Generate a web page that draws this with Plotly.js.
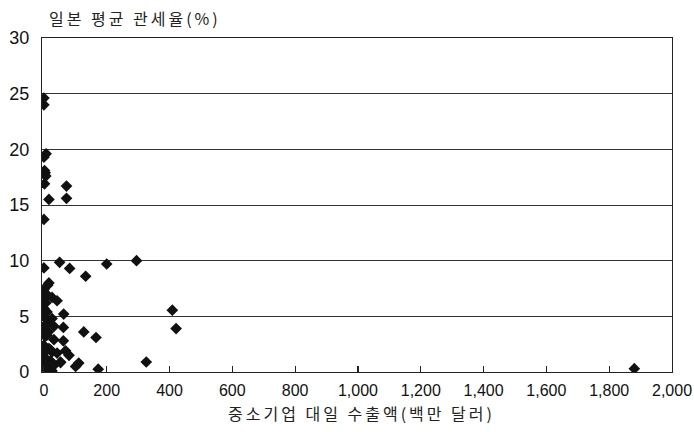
<!DOCTYPE html>
<html>
<head>
<meta charset="utf-8">
<script src="https://cdn.plot.ly/plotly-3.0.1.min.js"></script>
<style>
html,body{margin:0;padding:0;background:#fff;}
#chart{width:694px;height:432px;}
#chart .annotation-text{letter-spacing:3px;}
</style>
</head>
<body>
<div id="chart"></div>
<script>
// 중소기업 대일 수출액(백만 달러)
const exportsX = [
  0, 0, 0, 7, 2, 4, 6, 2, 16, 72, 72, 0,
  0, 50, 82, 133, 200, 295,
  409, 421, 326, 166, 127, 173, 101, 111, 1880,
  16, 12, 0, 8, 26, 42, 0, 6, 0, 4, 10, 63, 0, 26, 10, 0, 32, 62, 0, 14, 4, 10, 32, 62,
  0, 0, 16, 21, 26, 69, 80, 42, 0, 0, 10, 21, 53, 0, 26, 32, 4, 26, 12, 0, 53
];
// 일본 평균 관세율(%)
const tariffY = [
  24.6, 24.0, 19.3, 19.6, 18.1, 17.9, 17.6, 16.9, 15.5, 16.7, 15.6, 13.7,
  9.35, 9.85, 9.3, 8.6, 9.7, 10.0,
  5.55, 3.9, 0.9, 3.1, 3.6, 0.25, 0.5, 0.8, 0.3,
  8.0, 7.8, 7.4, 7.0, 6.7, 6.4, 6.5, 6.2, 5.7, 5.5, 5.4, 5.2, 5.0, 4.8, 4.4, 4.1, 4.1, 4.0, 3.8, 3.6, 3.2, 3.3, 2.9, 2.8,
  2.4, 2.2, 2.1, 2.0, 1.8, 1.9, 1.5, 1.7, 1.7, 1.2, 1.1, 1.0, 0.9, 0.9, 0.7, 0.6, 0.3, 0.1, 0.2, 0.5, 0.85
];
const xTicks = [0, 200, 400, 600, 800, 1000, 1200, 1400, 1600, 1800, 2000];
const yTicks = [0, 5, 10, 15, 20, 25, 30];
const xTitle = '중소기업\u00a0대일\u00a0수출액(백만\u00a0달러)';
const yTitle = '일본\u00a0평균\u00a0관세율(%)';

const font = '"Liberation Sans", Arial, "Noto Sans CJK KR", sans-serif';
const kfont = '"Noto Sans CJK KR", "Liberation Sans", sans-serif';

const trace = {
  type: 'scatter', mode: 'markers',
  x: exportsX, y: tariffY,
  marker: {symbol: 'diamond', size: 9, color: '#111'},
  hoverinfo: 'x+y'
};

const layout = {
  width: 694, height: 432,
  margin: {l: 42, r: 22, t: 38, b: 60},
  paper_bgcolor: '#fff', plot_bgcolor: '#fff',
  showlegend: false,
  font: {family: font, color: '#111'},
  xaxis: {
    range: [-6, 2000], tickvals: xTicks, tickformat: ',d',
    showgrid: false, zeroline: false,
    showline: true, linecolor: '#222', linewidth: 1.2, mirror: true,
    ticks: 'inside', ticklen: 6, tickcolor: '#222', tickwidth: 1.2,
    ticklabelstandoff: 4,
    tickfont: {size: 16, family: font, color: '#111'}
  },
  yaxis: {
    range: [0, 30], tickvals: yTicks,
    showgrid: true, gridcolor: '#333', gridwidth: 1,
    zeroline: false,
    showline: true, linecolor: '#222', linewidth: 1.2, mirror: true,
    ticks: '', ticklabelstandoff: 8,
    tickfont: {size: 18, family: font, color: '#111'}
  },
  annotations: [
    {text: yTitle, xref: 'paper', yref: 'paper', x: (135-42)/630, y: 1.06,
     xanchor: 'center', yanchor: 'middle', showarrow: false,
     font: {size: 16, family: kfont, color: '#222'}},
    {text: xTitle, xref: 'paper', yref: 'paper', x: (361-42)/630, y: -0.123,
     xanchor: 'center', yanchor: 'middle', showarrow: false,
     font: {size: 16, family: kfont, color: '#222'}}
  ]
};

Plotly.newPlot('chart', [trace], layout, {displayModeBar: false, staticPlot: true});
</script>
</body>
</html>
